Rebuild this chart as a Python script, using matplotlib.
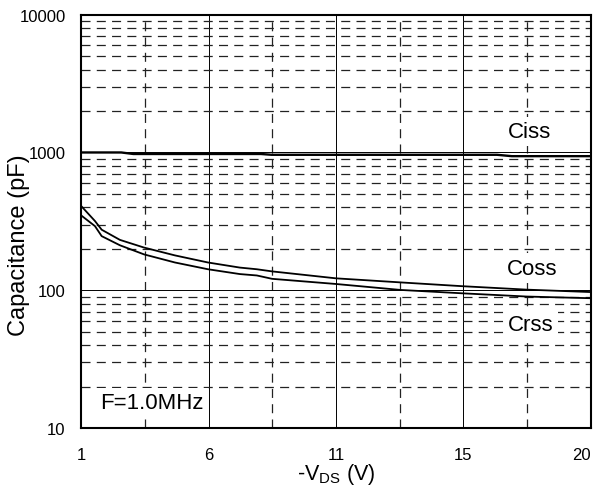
import matplotlib
matplotlib.use("Agg")
import matplotlib.pyplot as plt
import numpy as np
from matplotlib.ticker import FixedLocator, NullFormatter, NullLocator

plt.rcParams['font.family'] = ['Liberation Sans', 'DejaVu Sans']
plt.rcParams['mathtext.fontset'] = 'custom'
plt.rcParams['mathtext.rm'] = 'Liberation Sans'
plt.rcParams['lines.scale_dashes'] = False

# ---- data ----
vds_ciss = [1.0, 2.5, 2.95, 7.7, 8.1, 16.5, 17.05, 20.0]
ciss = [1000, 1000, 975, 975, 962, 962, 940, 940]

vds = [1.0, 1.52, 1.77, 2.45, 3.35, 4.5, 5.73, 6.92, 7.55, 8.12, 10.5, 12.9, 15.2, 17.6, 20.0]
coss = [410, 318, 275, 232, 204, 179, 159, 146, 142, 137, 122, 114, 107, 101, 97]
crss = [350, 292, 247, 212, 182, 159, 142, 131, 128, 121, 111, 100.5, 95, 90, 87.5]

x_tick_labels = ["1", "6", "11", "15", "20"]
y_ticks = [10, 100, 1000, 10000]
y_tick_labels = ["10", "100", "1000", "10000"]

fig = plt.figure(figsize=(5.99, 4.89), dpi=100)
ax = fig.add_axes([81/599, 1-429/489, 510/599, 413.3/489])

ax.set_yscale('log')
ax.set_xlim(1, 20)
ax.set_ylim(10, 10000)

# grid lines
xgrid = np.linspace(1, 20, 9)
for i, xv in enumerate(xgrid[1:-1], start=1):
    if i % 2 == 0:
        ax.axvline(xv, color='black', lw=0.7, zorder=1)
    else:
        ax.axvline(xv, color='#222222', lw=0.9, ls=(0, (6.5, 4.5)), zorder=1)
for dec in [10, 100, 1000]:
    for m in range(2, 10):
        ax.axhline(dec*m, color='#222222', lw=0.9, ls=(0, (6.5, 4.5)), zorder=1)
for yv in [100, 1000]:
    ax.axhline(yv, color='black', lw=0.7, zorder=1)

ax.plot(vds_ciss, ciss, color='black', lw=1.7, zorder=4)
ax.plot(vds, coss, color='black', lw=1.3, zorder=4)
ax.plot(vds, crss, color='black', lw=1.3, zorder=4)

box = dict(facecolor='white', edgecolor='none', pad=3)
ax.text(0.880, 0.717, 'Ciss', transform=ax.transAxes, ha='center', va='center', fontsize=16, bbox=box, zorder=3)
ax.text(0.884, 0.387, 'Coss', transform=ax.transAxes, ha='center', va='center', fontsize=16, bbox=box, zorder=3)
ax.text(0.882, 0.250, 'Crss', transform=ax.transAxes, ha='center', va='center', fontsize=16, bbox=box, zorder=3)
ax.text(0.037, 0.0605, 'F=1.0MHz', transform=ax.transAxes, ha='left', va='center', fontsize=16, bbox=box, zorder=3)

ax.xaxis.set_major_locator(FixedLocator(np.linspace(1, 20, 5)))
ax.set_xticklabels(x_tick_labels)
ax.get_xticklabels()[-1].set_horizontalalignment('right')
ax.yaxis.set_major_locator(FixedLocator(y_ticks))
ax.yaxis.set_minor_locator(NullLocator())
ax.yaxis.set_minor_formatter(NullFormatter())
ax.set_yticklabels(y_tick_labels)
ax.tick_params(axis='x', length=0, pad=14, labelsize=12)
ax.tick_params(axis='y', length=0, pad=11, labelsize=12)

for s in ax.spines.values():
    s.set_linewidth(1.5)
    s.set_zorder(5)

ax.set_xlabel(r'-V$_{\mathregular{DS}}$ (V)', fontsize=15.5)
ax.xaxis.set_label_coords(0.5, -0.08)
ax.xaxis.label.set_verticalalignment('top')

ax.set_ylabel('Capacitance (pF)', fontsize=17)
ax.yaxis.label.set_rotation_mode('default')
ax.yaxis.label.set_verticalalignment('center')
ax.yaxis.label.set_horizontalalignment('center')
ax.yaxis.set_label_coords(-0.1225, 0.444)

fig.savefig('out.png', dpi=100)
